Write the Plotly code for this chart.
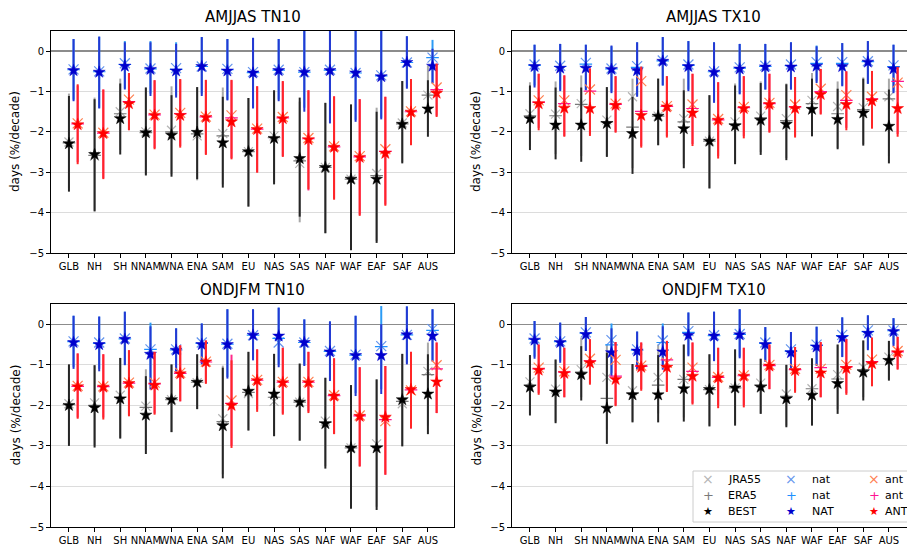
import plotly.graph_objects as go

# ---------------- data ----------------
regions = ["GLB", "NH", "SH", "NNAM", "WNA", "ENA", "SAM", "EU", "NAS", "SAS", "NAF", "WAF", "EAF", "SAF", "AUS"]
titles = ["AMJJAS TN10", "AMJJAS TX10", "ONDJFM TN10", "ONDJFM TX10"]
y_ticks = [-5, -4, -3, -2, -1, 0]
y_tick_labels = ["\u22125", "\u22124", "\u22123", "\u22122", "\u22121", "0"]
y_title = "days (%/decade)"

# ---- AMJJAS TN10 ----
amj_tn_best = [-2.29, -2.56, -1.67, -2.02, -2.08, -2.01, -2.27, -2.49, -2.16, -2.66, -2.88, -3.17, -3.17, -1.81, -1.43]
amj_tn_best_lo = [-3.48, -3.97, -2.56, -3.08, -3.11, -3.17, -3.38, -3.85, -3.30, -4.10, -4.51, -4.93, -4.75, -2.78, -2.12]
amj_tn_best_hi = [-1.11, -1.19, -0.80, -0.90, -1.09, -0.89, -1.13, -1.16, -0.97, -1.15, -1.28, -1.32, -1.50, -0.74, -0.72]
amj_tn_jra = [-2.25, -2.60, -1.50, -2.00, -1.96, -2.10, -2.04, -2.49, -2.10, -2.78, -2.88, -3.17, -3.03, -1.78, -1.09]
amj_tn_jra_lo = [-3.40, -3.95, -2.45, -3.05, -3.05, -3.20, -3.30, -3.85, -3.25, -4.24, -4.51, -4.93, -4.70, -2.75, -1.95]
amj_tn_jra_hi = [-1.05, -1.15, -0.68, -0.90, -0.87, -0.89, -0.90, -1.16, -0.97, -1.25, -1.28, -1.32, -1.40, -0.74, -0.35]
amj_tn_era = [-2.27, -2.58, -1.55, -2.02, -2.00, -2.05, -2.10, -2.49, -2.14, -2.72, -2.88, -3.17, -3.08, -1.80, -1.09]
amj_tn_nat = [-0.48, -0.52, -0.37, -0.45, -0.49, -0.38, -0.49, -0.54, -0.48, -0.52, -0.48, -0.54, -0.63, -0.28, -0.37]
amj_tn_nat_lo = [-1.24, -1.42, -0.95, -1.11, -1.15, -1.11, -1.22, -1.42, -1.24, -1.50, -1.79, -1.75, -1.69, -0.93, -0.79]
amj_tn_nat_hi = [0.30, 0.36, 0.22, 0.22, 0.18, 0.35, 0.30, 0.33, 0.30, 0.60, 0.60, 0.60, 0.60, 0.37, 0.06]
amj_tn_natx = [-0.45, -0.50, -0.30, -0.43, -0.42, -0.38, -0.44, -0.52, -0.46, -0.52, -0.46, -0.54, -0.60, -0.28, -0.16]
amj_tn_natp = [-0.46, -0.51, -0.33, -0.44, -0.45, -0.38, -0.46, -0.53, -0.47, -0.52, -0.47, -0.54, -0.61, -0.28, -0.16]
amj_tn_natp_lo = [-1.20, -1.40, -0.92, -1.05, -1.10, -1.05, -1.20, -1.40, -1.20, -1.40, -1.70, -1.70, -1.65, -0.90, -0.80]
amj_tn_natp_hi = [0.30, 0.36, 0.25, 0.25, 0.22, 0.35, 0.30, 0.33, 0.30, 0.60, 0.60, 0.60, 0.60, 0.37, 0.28]
amj_tn_ant = [-1.82, -2.04, -1.30, -1.59, -1.59, -1.64, -1.75, -1.94, -1.67, -2.19, -2.38, -2.63, -2.53, -1.51, -1.04]
amj_tn_ant_lo = [-2.80, -3.17, -1.96, -2.43, -2.39, -2.57, -2.68, -3.01, -2.62, -3.42, -3.68, -4.08, -3.83, -2.33, -1.63]
amj_tn_ant_hi = [-0.82, -0.95, -0.54, -0.72, -0.69, -0.71, -0.71, -0.87, -0.74, -0.97, -1.12, -1.19, -1.13, -0.69, -0.31]
amj_tn_antx = [-1.79, -2.02, -1.20, -1.57, -1.53, -1.62, -1.59, -1.92, -1.63, -2.15, -2.36, -2.60, -2.43, -1.49, -0.90]
amj_tn_antp = [-1.80, -2.03, -1.25, -1.58, -1.55, -1.63, -1.65, -1.93, -1.65, -2.17, -2.37, -2.62, -2.48, -1.50, -0.95]
amj_tn_antp_lo = [-2.75, -3.15, -1.95, -2.40, -2.35, -2.55, -2.65, -3.00, -2.60, -3.45, -3.65, -4.05, -3.80, -2.30, -1.60]
amj_tn_antp_hi = [-0.85, -0.95, -0.55, -0.72, -0.70, -0.72, -0.72, -0.87, -0.75, -0.97, -1.12, -1.19, -1.13, -0.69, -0.31]

# ---- AMJJAS TX10 ----
amj_tx_best = [-1.67, -1.83, -1.83, -1.79, -2.04, -1.61, -1.92, -2.23, -1.85, -1.71, -1.81, -1.44, -1.69, -1.53, -1.86]
amj_tx_best_lo = [-2.45, -2.68, -2.74, -2.62, -3.04, -2.33, -2.90, -3.40, -2.80, -2.57, -2.70, -2.11, -2.43, -2.34, -2.78]
amj_tx_best_hi = [-0.85, -0.90, -0.90, -0.89, -1.13, -0.68, -0.97, -1.09, -0.85, -0.79, -0.82, -0.68, -0.93, -0.68, -0.95]
amj_tx_jra = [-1.55, -1.56, -1.30, -1.71, -1.13, -1.61, -1.67, -2.23, -1.75, -1.61, -1.67, -1.22, -1.37, -1.40, -1.13]
amj_tx_jra_lo = [-2.35, -2.55, -2.60, -2.60, -2.90, -2.33, -2.80, -3.40, -2.75, -2.50, -2.65, -2.05, -2.40, -2.30, -2.60]
amj_tx_jra_hi = [-0.77, -0.75, -0.60, -0.89, -0.68, -0.68, -0.68, -1.09, -0.80, -0.75, -0.80, -0.54, -0.75, -0.65, -0.68]
amj_tx_era = [-1.60, -1.60, -1.32, -1.75, -1.88, -1.61, -1.75, -2.23, -1.80, -1.65, -1.72, -1.30, -1.55, -1.45, -1.18]
amj_tx_nat = [-0.38, -0.42, -0.42, -0.45, -0.48, -0.25, -0.38, -0.52, -0.44, -0.39, -0.39, -0.37, -0.38, -0.27, -0.44]
amj_tx_nat_lo = [-0.90, -0.99, -0.97, -1.04, -1.13, -0.85, -0.99, -1.28, -1.07, -0.95, -0.95, -0.79, -0.87, -0.81, -1.04]
amj_tx_nat_hi = [0.16, 0.18, 0.16, 0.14, 0.22, 0.35, 0.25, 0.22, 0.18, 0.18, 0.22, 0.12, 0.20, 0.25, 0.16]
amj_tx_natx = [-0.33, -0.36, -0.29, -0.43, -0.37, -0.23, -0.33, -0.50, -0.40, -0.36, -0.33, -0.27, -0.27, -0.25, -0.35]
amj_tx_natp = [-0.35, -0.38, -0.32, -0.44, -0.40, -0.24, -0.35, -0.51, -0.42, -0.38, -0.36, -0.30, -0.30, -0.26, -0.38]
amj_tx_natp_lo = [-0.85, -0.95, -0.95, -1.00, -1.10, -0.85, -0.95, -1.25, -1.05, -0.95, -0.95, -0.75, -0.85, -0.80, -1.00]
amj_tx_natp_hi = [0.16, 0.18, 0.16, 0.12, 0.22, 0.35, 0.25, 0.22, 0.18, 0.18, 0.22, 0.14, 0.20, 0.25, 0.16]
amj_tx_ant = [-1.30, -1.41, -1.42, -1.34, -1.59, -1.38, -1.53, -1.71, -1.42, -1.32, -1.42, -1.07, -1.32, -1.23, -1.42]
amj_tx_ant_lo = [-1.96, -2.12, -2.10, -2.02, -2.39, -2.14, -2.35, -2.66, -2.16, -2.02, -2.14, -1.57, -1.96, -1.92, -2.12]
amj_tx_ant_hi = [-0.56, -0.60, -0.44, -0.62, -0.38, -0.62, -0.56, -0.77, -0.62, -0.56, -0.64, -0.44, -0.50, -0.49, -0.39]
amj_tx_antx = [-1.22, -1.22, -0.95, -1.30, -0.74, -1.36, -1.32, -1.68, -1.38, -1.28, -1.32, -0.93, -1.09, -1.13, -0.78]
amj_tx_antp = [-1.27, -1.30, -0.99, -1.32, -1.49, -1.37, -1.42, -1.70, -1.40, -1.30, -1.38, -1.00, -1.22, -1.18, -0.75]
amj_tx_antp_lo = [-1.90, -2.10, -2.05, -2.00, -2.35, -2.10, -2.30, -2.60, -2.10, -2.00, -2.10, -1.55, -1.90, -1.90, -2.05]
amj_tx_antp_hi = [-0.56, -0.60, -0.42, -0.62, -0.40, -0.62, -0.56, -0.77, -0.62, -0.56, -0.64, -0.44, -0.50, -0.49, -0.39]

# ---- ONDJFM TN10 ----
ond_tn_best = [-2.00, -2.06, -1.84, -2.24, -1.86, -1.43, -2.50, -1.65, -1.72, -1.92, -2.45, -3.05, -3.05, -1.86, -1.72]
ond_tn_best_lo = [-3.00, -3.04, -2.82, -3.20, -2.66, -2.09, -3.80, -2.62, -2.76, -2.87, -3.56, -4.55, -4.58, -3.01, -2.71]
ond_tn_best_hi = [-0.99, -1.01, -0.83, -1.28, -0.99, -0.74, -1.07, -0.68, -0.73, -0.97, -1.32, -1.50, -1.36, -0.73, -0.74]
ond_tn_jra = [-1.96, -1.94, -1.75, -2.02, -1.86, -1.44, -2.33, -1.71, -1.90, -1.92, -2.39, -3.05, -2.95, -1.96, -1.16]
ond_tn_jra_lo = [-2.95, -3.00, -2.80, -3.10, -2.66, -2.10, -3.70, -2.62, -2.76, -2.87, -3.50, -4.50, -4.50, -3.01, -2.50]
ond_tn_jra_hi = [-0.99, -1.01, -0.83, -1.11, -0.99, -0.74, -1.02, -0.68, -0.73, -0.97, -1.32, -1.50, -1.36, -0.73, -0.45]
ond_tn_era = [-1.98, -2.00, -1.80, -2.05, -1.86, -1.43, -2.40, -1.68, -1.80, -1.92, -2.42, -3.05, -3.00, -1.90, -1.24]
ond_tn_nat = [-0.45, -0.50, -0.37, -0.74, -0.64, -0.50, -0.50, -0.27, -0.29, -0.45, -0.68, -0.77, -0.77, -0.26, -0.29]
ond_tn_nat_lo = [-1.10, -1.16, -1.01, -1.61, -1.16, -0.99, -1.34, -0.89, -1.06, -1.03, -1.40, -1.77, -1.72, -0.99, -0.92]
ond_tn_nat_hi = [0.21, 0.19, 0.31, -0.05, -0.10, 0.02, 0.37, 0.37, 0.41, 0.12, 0.07, 0.21, 0.00, 0.44, 0.37]
ond_tn_natx = [-0.42, -0.45, -0.35, -0.62, -0.62, -0.45, -0.48, -0.27, -0.45, -0.45, -0.66, -0.75, -0.54, -0.26, -0.12]
ond_tn_natp = [-0.43, -0.47, -0.36, -0.62, -0.63, -0.47, -0.49, -0.27, -0.35, -0.45, -0.67, -0.76, -0.55, -0.26, -0.15]
ond_tn_natp_lo = [-1.05, -1.10, -1.00, -1.40, -1.15, -0.95, -1.30, -0.85, -1.00, -1.00, -1.35, -1.70, -1.60, -0.95, -0.90]
ond_tn_natp_hi = [0.21, 0.19, 0.31, 0.04, -0.10, 0.02, 0.37, 0.37, 0.41, 0.12, 0.07, 0.21, 0.45, 0.44, 0.37]
ond_tn_ant = [-1.54, -1.55, -1.46, -1.50, -1.22, -0.93, -2.00, -1.39, -1.44, -1.44, -1.77, -2.27, -2.29, -1.61, -1.42]
ond_tn_ant_lo = [-2.33, -2.35, -2.27, -2.23, -1.90, -1.47, -3.05, -2.16, -2.23, -2.19, -2.71, -3.51, -3.71, -2.57, -2.19]
ond_tn_ant_hi = [-0.72, -0.74, -0.64, -0.68, -0.52, -0.40, -0.89, -0.62, -0.58, -0.68, -0.84, -1.06, -1.03, -0.68, -0.45]
ond_tn_antx = [-1.52, -1.53, -1.44, -1.44, -1.20, -0.92, -1.88, -1.37, -1.42, -1.42, -1.75, -2.25, -2.39, -1.63, -1.01]
ond_tn_antp = [-1.53, -1.54, -1.45, -1.47, -1.21, -0.93, -1.95, -1.38, -1.43, -1.43, -1.76, -2.26, -2.35, -1.62, -1.10]
ond_tn_antp_lo = [-2.30, -2.30, -2.25, -2.20, -1.90, -1.45, -3.00, -2.10, -2.20, -2.15, -2.70, -3.50, -3.71, -2.57, -2.19]
ond_tn_antp_hi = [-0.72, -0.74, -0.64, -0.68, -0.52, -0.40, -0.75, -0.62, -0.58, -0.68, -0.84, -1.06, -1.03, -0.68, -0.45]

# ---- ONDJFM TX10 ----
ond_tx_best = [-1.55, -1.67, -1.24, -2.07, -1.74, -1.74, -1.59, -1.61, -1.57, -1.55, -1.84, -1.75, -1.46, -1.18, -0.89]
ond_tx_best_lo = [-2.25, -2.44, -1.88, -2.95, -2.42, -2.42, -2.40, -2.52, -2.50, -2.21, -2.54, -2.50, -2.21, -1.88, -1.39]
ond_tx_best_hi = [-0.76, -0.87, -0.54, -0.70, -0.98, -0.76, -0.50, -0.74, -0.62, -0.85, -1.00, -0.84, -0.50, -0.40, -0.41]
ond_tx_jra = [-1.42, -1.60, -1.12, -1.31, -1.64, -1.31, -1.36, -1.61, -1.57, -1.45, -1.72, -1.59, -1.24, -1.06, -0.81]
ond_tx_jra_lo = [-2.20, -2.40, -1.80, -2.60, -2.40, -2.20, -2.30, -2.50, -2.45, -2.20, -2.50, -2.45, -2.10, -1.80, -1.35]
ond_tx_jra_hi = [-0.76, -0.87, -0.33, -0.50, -0.98, -0.50, -0.50, -0.74, -0.62, -0.85, -1.00, -0.84, -0.50, -0.40, -0.41]
ond_tx_era = [-1.50, -1.63, -1.18, -1.83, -1.70, -1.50, -1.36, -1.61, -1.57, -1.50, -1.78, -1.59, -1.35, -1.12, -0.85]
ond_tx_nat = [-0.39, -0.45, -0.25, -0.70, -0.66, -0.68, -0.27, -0.29, -0.26, -0.50, -0.70, -0.56, -0.33, -0.22, -0.18]
ond_tx_nat_lo = [-0.85, -0.95, -0.66, -1.28, -1.12, -1.12, -0.79, -0.91, -0.84, -0.93, -1.09, -1.03, -0.81, -0.64, -0.54]
ond_tx_nat_hi = [0.08, 0.04, 0.18, -0.10, -0.18, -0.05, 0.29, 0.31, 0.37, -0.07, -0.19, -0.06, 0.17, 0.22, 0.15]
ond_tx_natx = [-0.35, -0.42, -0.20, -0.39, -0.62, -0.40, -0.17, -0.27, -0.24, -0.45, -0.62, -0.50, -0.26, -0.15, -0.15]
ond_tx_natp = [-0.37, -0.43, -0.22, -0.51, -0.64, -0.45, -0.20, -0.28, -0.25, -0.47, -0.66, -0.52, -0.28, -0.18, -0.16]
ond_tx_natp_lo = [-0.80, -0.90, -0.65, -1.20, -1.10, -1.00, -0.75, -0.90, -0.80, -0.90, -1.05, -1.00, -0.80, -0.60, -0.50]
ond_tx_natp_hi = [0.08, 0.04, 0.18, 0.02, -0.18, 0.02, 0.29, 0.31, 0.37, -0.07, -0.19, -0.06, 0.17, 0.22, 0.15]
ond_tx_ant = [-1.13, -1.21, -0.95, -1.36, -1.06, -1.06, -1.28, -1.32, -1.28, -1.03, -1.14, -1.20, -1.09, -0.97, -0.70]
ond_tx_ant_lo = [-1.74, -1.80, -1.49, -2.02, -1.64, -1.67, -1.98, -2.07, -2.05, -1.60, -1.69, -1.80, -1.74, -1.53, -1.12]
ond_tx_ant_hi = [-0.50, -0.58, -0.37, -0.44, -0.45, -0.41, -0.45, -0.58, -0.58, -0.50, -0.56, -0.44, -0.37, -0.33, -0.31]
ond_tx_antx = [-1.07, -1.16, -0.85, -0.88, -1.02, -0.95, -1.07, -1.30, -1.26, -1.00, -1.10, -1.10, -1.00, -0.87, -0.66]
ond_tx_antp = [-1.10, -1.18, -0.90, -1.28, -1.04, -0.88, -1.16, -1.31, -1.27, -1.02, -1.12, -1.07, -1.05, -0.92, -0.68]
ond_tx_antp_lo = [-1.70, -1.80, -1.45, -2.00, -1.60, -1.65, -1.95, -2.00, -2.00, -1.60, -1.65, -1.80, -1.70, -1.50, -1.10]
ond_tx_antp_hi = [-0.50, -0.58, -0.37, -0.44, -0.45, -0.41, -0.45, -0.58, -0.58, -0.50, -0.56, -0.44, -0.37, -0.33, -0.31]

legend_rows = [["JRA55", "nat", "ant"], ["ERA5", "nat", "ant"], ["BEST", "NAT", "ANT"]]

# ---------------- layout helpers ----------------
W, H = 907, 547
FONT = "DejaVu Sans"

def px_x(v):
    return v / W

def px_y(v):
    return 1 - v / H

# panel boxes in window pixels (left, right, top, bottom)
boxes = [(51, 454, 31, 253), (512, 907, 31, 253), (51, 454, 304, 527), (512, 907, 304, 527)]
px_per_unit = 25.64
x_left = -0.70

panels = [
    dict(best=amj_tn_best, best_lo=amj_tn_best_lo, best_hi=amj_tn_best_hi,
         jra=amj_tn_jra, jra_lo=amj_tn_jra_lo, jra_hi=amj_tn_jra_hi, era=amj_tn_era,
         nat=amj_tn_nat, nat_lo=amj_tn_nat_lo, nat_hi=amj_tn_nat_hi, natx=amj_tn_natx,
         natp=amj_tn_natp, natp_lo=amj_tn_natp_lo, natp_hi=amj_tn_natp_hi,
         ant=amj_tn_ant, ant_lo=amj_tn_ant_lo, ant_hi=amj_tn_ant_hi, antx=amj_tn_antx,
         antp=amj_tn_antp, antp_lo=amj_tn_antp_lo, antp_hi=amj_tn_antp_hi),
    dict(best=amj_tx_best, best_lo=amj_tx_best_lo, best_hi=amj_tx_best_hi,
         jra=amj_tx_jra, jra_lo=amj_tx_jra_lo, jra_hi=amj_tx_jra_hi, era=amj_tx_era,
         nat=amj_tx_nat, nat_lo=amj_tx_nat_lo, nat_hi=amj_tx_nat_hi, natx=amj_tx_natx,
         natp=amj_tx_natp, natp_lo=amj_tx_natp_lo, natp_hi=amj_tx_natp_hi,
         ant=amj_tx_ant, ant_lo=amj_tx_ant_lo, ant_hi=amj_tx_ant_hi, antx=amj_tx_antx,
         antp=amj_tx_antp, antp_lo=amj_tx_antp_lo, antp_hi=amj_tx_antp_hi),
    dict(best=ond_tn_best, best_lo=ond_tn_best_lo, best_hi=ond_tn_best_hi,
         jra=ond_tn_jra, jra_lo=ond_tn_jra_lo, jra_hi=ond_tn_jra_hi, era=ond_tn_era,
         nat=ond_tn_nat, nat_lo=ond_tn_nat_lo, nat_hi=ond_tn_nat_hi, natx=ond_tn_natx,
         natp=ond_tn_natp, natp_lo=ond_tn_natp_lo, natp_hi=ond_tn_natp_hi,
         ant=ond_tn_ant, ant_lo=ond_tn_ant_lo, ant_hi=ond_tn_ant_hi, antx=ond_tn_antx,
         antp=ond_tn_antp, antp_lo=ond_tn_antp_lo, antp_hi=ond_tn_antp_hi),
    dict(best=ond_tx_best, best_lo=ond_tx_best_lo, best_hi=ond_tx_best_hi,
         jra=ond_tx_jra, jra_lo=ond_tx_jra_lo, jra_hi=ond_tx_jra_hi, era=ond_tx_era,
         nat=ond_tx_nat, nat_lo=ond_tx_nat_lo, nat_hi=ond_tx_nat_hi, natx=ond_tx_natx,
         natp=ond_tx_natp, natp_lo=ond_tx_natp_lo, natp_hi=ond_tx_natp_hi,
         ant=ond_tx_ant, ant_lo=ond_tx_ant_lo, ant_hi=ond_tx_ant_hi, antx=ond_tx_antx,
         antp=ond_tx_antp, antp_lo=ond_tx_antp_lo, antp_hi=ond_tx_antp_hi),
]

C_JRA, C_ERA, C_BEST = "#b4b4b4", "#7a7a7a", "#000000"
C_NATX, C_NATP, C_NAT = "#6495ED", "#1E90FF", "#0000CD"
C_ANTX, C_ANTP, C_ANT = "#FF7F50", "#FF1493", "#FF0000"

fig = go.Figure()

def add(k, xs, ys, symbol, color, size, lw=1.2, lo=None, hi=None, barcolor=None):
    xa = "x" if k == 0 else f"x{k+1}"
    ya = "y" if k == 0 else f"y{k+1}"
    err = None
    if lo is not None:
        err = dict(type="data", symmetric=False,
                   array=[h - v for h, v in zip(hi, ys)],
                   arrayminus=[v - l for v, l in zip(ys, lo)],
                   color=barcolor, thickness=2, width=0)
    if symbol == "star":
        marker = dict(symbol="star", size=size, color=color, line=dict(width=0.5, color=color))
    else:
        marker = dict(symbol=symbol, size=size, color=color, line=dict(width=lw, color=color))
    fig.add_trace(go.Scatter(x=xs, y=ys, mode="markers", marker=marker, error_y=err,
                             xaxis=xa, yaxis=ya, showlegend=False, hoverinfo="skip"))

n = len(regions)
for k, p in enumerate(panels):
    x_obs = [i for i in range(n)]
    x_nat = [i + 0.18 for i in range(n)]
    x_ant = [i + 0.34 for i in range(n)]
    add(k, x_obs, p["jra"], "x-thin", C_JRA, 9, lo=p["jra_lo"], hi=p["jra_hi"], barcolor="#a8a8a8")
    add(k, x_obs, p["era"], "cross-thin", C_ERA, 9)
    add(k, x_obs, p["best"], "star", C_BEST, 9, lo=p["best_lo"], hi=p["best_hi"], barcolor="#262626")
    add(k, x_nat, p["natx"], "x-thin", C_NATX, 10)
    add(k, x_nat, p["natp"], "cross-thin", C_NATP, 9, lo=p["natp_lo"], hi=p["natp_hi"], barcolor="#2b9bf5")
    add(k, x_nat, p["nat"], "star", C_NAT, 9, lo=p["nat_lo"], hi=p["nat_hi"], barcolor="#2438d2")
    add(k, x_ant, p["antx"], "x-thin", C_ANTX, 10)
    add(k, x_ant, p["antp"], "cross-thin", C_ANTP, 9, lo=p["antp_lo"], hi=p["antp_hi"], barcolor="#ff2a8a")
    add(k, x_ant, p["ant"], "star", C_ANT, 9, lo=p["ant_lo"], hi=p["ant_hi"], barcolor="#ff2626")

layout = dict(width=W, height=H, margin=dict(l=0, r=0, t=0, b=0),
              paper_bgcolor="white", plot_bgcolor="white",
              font=dict(family=FONT, size=10, color="black"), showlegend=False)

annotations = []
shapes = []
for k, (l, r, t, b) in enumerate(boxes):
    sx = "" if k == 0 else str(k + 1)
    width_units = (r - l) / px_per_unit
    layout[f"xaxis{sx}"] = dict(
        domain=[px_x(l), px_x(r)], anchor=f"y{sx}", range=[x_left, x_left + width_units],
        tickmode="array", tickvals=list(range(n)), ticktext=regions, tickangle=0,
        ticks="outside", ticklen=4, tickwidth=1, tickcolor="black",
        showgrid=False, zeroline=False, showline=True, linecolor="black", linewidth=1,
        mirror=True, tickfont=dict(family=FONT, size=10, color="black"), automargin=False)
    layout[f"yaxis{sx}"] = dict(
        domain=[px_y(b), px_y(t)], anchor=f"x{sx}", range=[-5, 0.5],
        tickmode="array", tickvals=y_ticks, ticktext=y_tick_labels,
        ticks="outside", ticklen=4, tickwidth=1, tickcolor="black",
        showgrid=True, gridcolor="#dcdcdc", gridwidth=1,
        zeroline=True, zerolinecolor="#8c8c8c", zerolinewidth=1.5,
        showline=True, linecolor="black", linewidth=1, mirror=(k % 2 == 0),
        tickfont=dict(family=FONT, size=10, color="black"), automargin=False)
    cx = (l + r) / 2 if k % 2 == 0 else (l + 915) / 2
    annotations.append(dict(text=titles[k], x=px_x(cx), y=px_y(t - 14), xref="paper", yref="paper",
                            xanchor="center", yanchor="middle", showarrow=False,
                            font=dict(family=FONT, size=15, color="black")))
    annotations.append(dict(text=y_title, x=px_x(l - 36), y=px_y((t + b) / 2), xref="paper", yref="paper",
                            xanchor="center", yanchor="middle", textangle=-90, showarrow=False,
                            font=dict(family=FONT, size=12, color="black")))

# legend (inside bottom-right panel)
shapes.append(dict(type="rect", xref="paper", yref="paper", x0=px_x(693), x1=px_x(925),
                   y0=px_y(522), y1=px_y(471), line=dict(color="#cccccc", width=1),
                   fillcolor="white", layer="above"))
glyphs = [["\u00d7", "\u00d7", "\u00d7"], ["+", "+", "+"], ["\u2605", "\u2605", "\u2605"]]
glyph_colors = [[C_JRA, C_NATX, C_ANTX], [C_ERA, C_NATP, C_ANTP], [C_BEST, C_NAT, C_ANT]]
glyph_sizes = [14, 13, 11]
col_marker_x = [708, 791, 874]
col_text_x = [727, 811, 884]
row_y = [479, 495, 511]
for ri in range(3):
    for ci in range(3):
        annotations.append(dict(text=glyphs[ri][ci], x=px_x(col_marker_x[ci]), y=px_y(row_y[ri]),
                                xref="paper", yref="paper", xanchor="center", yanchor="middle",
                                showarrow=False, borderpad=0,
                                font=dict(family=FONT, size=glyph_sizes[ri], color=glyph_colors[ri][ci])))
        annotations.append(dict(text=legend_rows[ri][ci], x=px_x(col_text_x[ci]), y=px_y(row_y[ri]),
                                xref="paper", yref="paper", xanchor="left", yanchor="middle",
                                showarrow=False, borderpad=0,
                                font=dict(family=FONT, size=11, color="black")))

layout["annotations"] = annotations
layout["shapes"] = shapes
fig.update_layout(**layout)
fig.write_html(
    "out.html",
    config={"displayModeBar": False, "staticPlot": True},
    post_script="document.body.style.margin='0';document.body.style.overflow='hidden';"
                "document.documentElement.style.overflow='hidden';",
)
